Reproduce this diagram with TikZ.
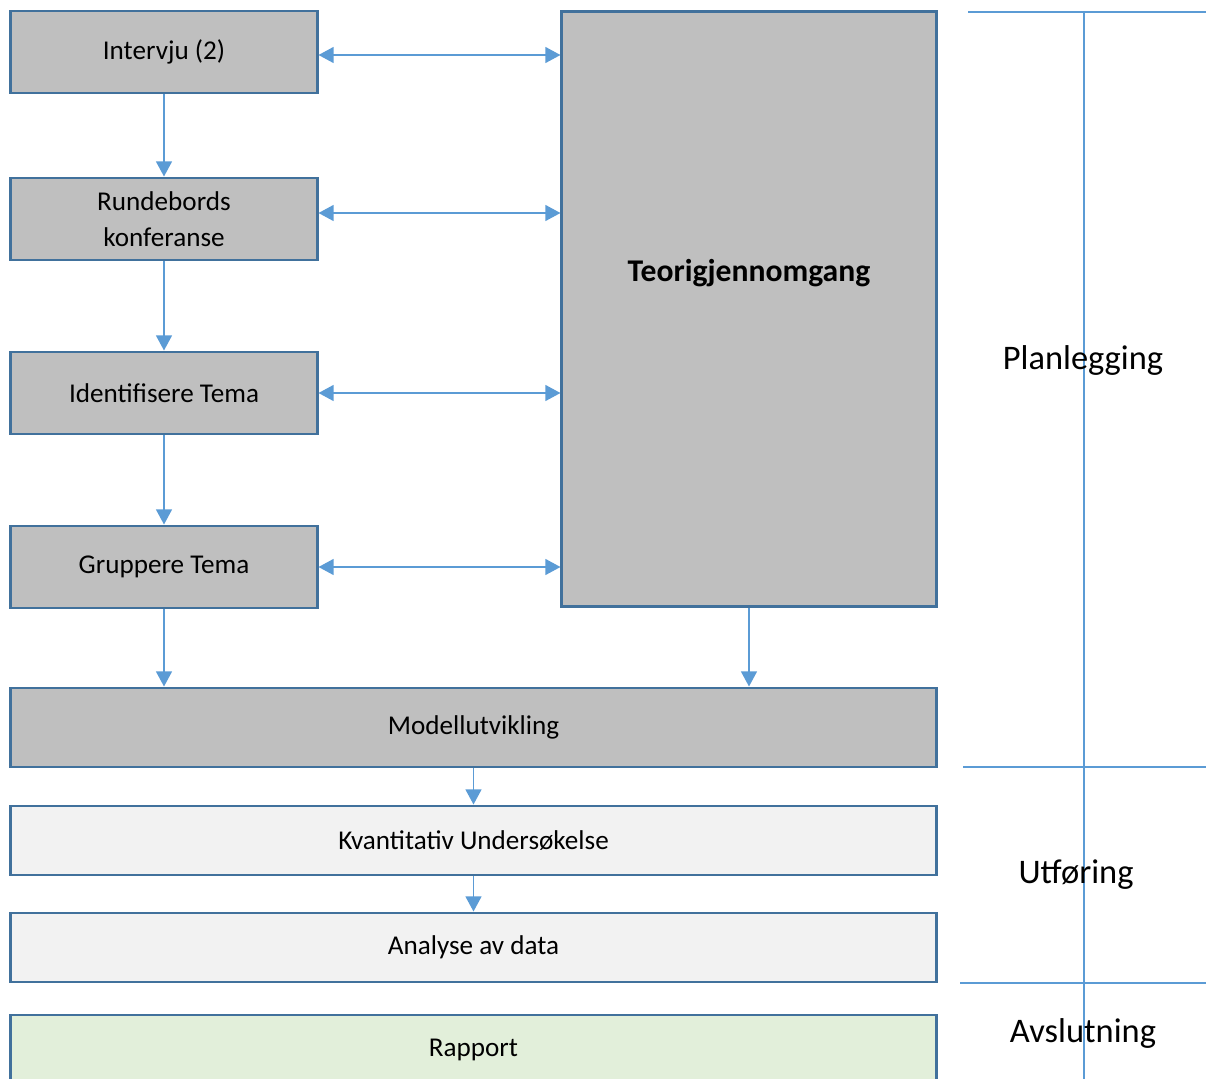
\documentclass[tikz,border=0pt]{standalone}
\usepackage{fontspec}
\setmainfont{Carlito}
\usetikzlibrary{arrows.meta}

\definecolor{boxline}{HTML}{41719C}
\definecolor{boxgray}{HTML}{BFBFBF}
\definecolor{boxlight}{HTML}{F2F2F2}
\definecolor{boxgreen}{HTML}{E2EFDA}
\definecolor{flowblue}{HTML}{5B9BD5}

\tikzset{
	box/.style={draw=boxline, line width=2.1pt, fill=boxgray, inner sep=0pt,
		minimum width=7.65cm, minimum height=2.05cm, align=center,
		font=\fontsize{19.3}{26}\selectfont},
	widebox/.style={box, minimum width=23.125cm},
	flow/.style={draw=flowblue, line width=1.15pt, -{Triangle[length=0.38cm,width=0.4cm]}},
	bothflow/.style={flow, {Triangle[length=0.38cm,width=0.4cm]}-{Triangle[length=0.38cm,width=0.4cm]}},
	phase/.style={draw=flowblue, line width=1.1pt},
	phaselabel/.style={font=\fontsize{24.5}{29}\selectfont, inner sep=0pt}
}

\begin{document}
\begin{tikzpicture}[x=0.025cm, y=-0.025cm]
		%%%%% START %%%%%
		\useasboundingbox (0, 0) rectangle (1206, 1079);
		
		\node[box] (intervju) at (164, 52) {Intervju (2)};
		\node[box] (runde) at (164, 219) {Rundebords\\konferanse};
		\node[box] (identifisere) at (164, 393) {Identifisere Tema};
		\node[box] (gruppere) at (164, 567) {Gruppere Tema};
		
		\node[box, minimum width=9.35cm, minimum height=14.85cm,
			label={[font=\fontsize{22.5}{27}\selectfont\bfseries, yshift=0.9cm]center:Teorigjennomgang}] (teori) at (749, 309) {};
		
		\node[widebox, minimum height=1.975cm] (modell) at (473.5, 727.5) {Modellutvikling};
		\node[widebox, fill=boxlight, minimum height=1.725cm] (kvant) at (473.5, 840.5) {Kvantitativ Undersøkelse};
		\node[widebox, fill=boxlight, minimum height=1.725cm] (analyse) at (473.5, 947.5) {Analyse av data};
		\node[widebox, fill=boxgreen, minimum height=1.75cm] (rapport) at (473.5, 1050) {Rapport};
		
		\draw[flow] (intervju) -- (runde);
		\draw[flow] (runde) -- (identifisere);
		\draw[flow] (identifisere) -- (gruppere);
		\draw[flow] (gruppere.south) -- (gruppere.south |- modell.north);
		\draw[flow] (teori.south) -- (teori.south |- modell.north);
		\draw[flow] (modell) -- (kvant);
		\draw[flow] (kvant) -- (analyse);
		
		\draw[bothflow] ([yshift=-0.075cm]intervju.east) -- ([yshift=-0.075cm]intervju.east -| teori.west);
		\draw[bothflow] ([yshift=0.15cm]runde.east) -- ([yshift=0.15cm]runde.east -| teori.west);
		\draw[bothflow] (identifisere.east) -- (identifisere.east -| teori.west);
		\draw[bothflow] (gruppere.east) -- (gruppere.east -| teori.west);
		
		% phases
		\draw[phase] (1084, 12) -- (1084, 1079);
		\draw[phase] (968, 12) -- (1206, 12);
		\draw[phase] (963, 767) -- (1206, 767);
		\draw[phase] (960, 983) -- (1206, 983);
		
		\node[phaselabel] (planlegging) at (1083, 360) {Planlegging};
		\node[phaselabel] (utforing) at (1076, 875) {Utføring};
		\node[phaselabel] (avslutning) at (1083, 1033) {Avslutning};
		
		%%%%% END %%%%%
	\end{tikzpicture}
\end{document}
